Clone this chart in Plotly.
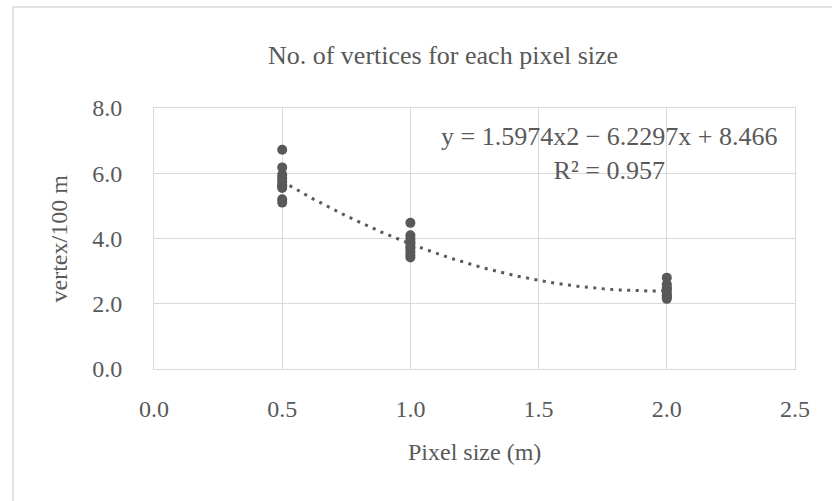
import numpy as np
import plotly.graph_objects as go

# Data
pixel_size = [0.5]*10 + [1.0]*10 + [2.0]*9
vertex_per_100m = [6.72, 6.18, 5.95, 5.85, 5.75, 5.65, 5.6, 5.55, 5.2, 5.1,
                   4.48, 4.1, 4.0, 3.9, 3.85, 3.75, 3.7, 3.6, 3.5, 3.42,
                   2.8, 2.6, 2.5, 2.45, 2.4, 2.3, 2.25, 2.2, 2.15]
trend_coef = [1.5974, -6.2297, 8.466]  # quadratic trendline from the chart label
equation_text = "y = 1.5974x2 − 6.2297x + 8.466<br>R² = 0.957"
x_ticks = [0.0, 0.5, 1.0, 1.5, 2.0, 2.5]
y_ticks = [0.0, 2.0, 4.0, 6.0, 8.0]

tx = np.linspace(min(pixel_size), max(pixel_size), 200)
ty = np.polyval(trend_coef, tx)

FONT = "Liberation Serif"
TXT = "#595959"
GRID = "#D9D9D9"

fig = go.Figure()
fig.add_trace(go.Scatter(x=tx, y=ty, mode="lines",
                         line=dict(color=TXT, width=3, dash="3px,5.5px"),
                         hoverinfo="skip", showlegend=False))
fig.add_trace(go.Scatter(x=pixel_size, y=vertex_per_100m, mode="markers",
                         marker=dict(color=TXT, size=10), showlegend=False))

fig.add_annotation(x=1.775, y=6.62, xref="x", yref="y", text=equation_text,
                   showarrow=False, align="center", xanchor="center", yanchor="middle",
                   font=dict(family=FONT, size=26, color=TXT))

# axis titles as annotations
fig.add_annotation(x=0.5, y=0, xref="paper", yref="paper", text="Pixel size (m)",
                   showarrow=False, xanchor="center", yanchor="middle", yshift=-83,
                   font=dict(family=FONT, size=24, color=TXT))
fig.add_annotation(x=0, y=0.5, xref="paper", yref="paper", text="vertex/100 m",
                   showarrow=False, xanchor="center", yanchor="middle", xshift=-96, textangle=-90,
                   font=dict(family=FONT, size=24, color=TXT))

fig.add_shape(type="rect", xref="paper", yref="paper", xsizemode="pixel", ysizemode="pixel",
              xanchor=0, yanchor=1, x0=-141, x1=720, y0=101, y1=-420,
              line=dict(color=GRID, width=1.5), fillcolor="rgba(0,0,0,0)", layer="below")

fig.update_layout(
    width=832, height=501,
    margin=dict(l=154, r=37, t=108, b=132),
    paper_bgcolor="white", plot_bgcolor="white",
    title=dict(text="No. of vertices for each pixel size", x=443/832, xref="container", xanchor="center",
               y=1 - 55/501, yref="container", yanchor="middle",
               font=dict(family=FONT, size=26, color=TXT)),
    font=dict(family=FONT, color=TXT),
    xaxis=dict(range=[0, 2.5], tickvals=x_ticks, ticktext=[f"{v:.1f}" for v in x_ticks],
               showgrid=True, gridcolor=GRID, gridwidth=1, zeroline=False,
               showline=True, linecolor=GRID, linewidth=1, mirror=True, ticks="",
               tickfont=dict(family=FONT, size=24, color=TXT), ticklabelstandoff=18),
    yaxis=dict(range=[0, 8], tickvals=y_ticks, ticktext=[f"{v:.1f}" for v in y_ticks],
               showgrid=True, gridcolor=GRID, gridwidth=1, zeroline=False,
               showline=True, linecolor=GRID, linewidth=1, mirror=True, ticks="",
               tickfont=dict(family=FONT, size=24, color=TXT), ticklabelstandoff=26),
)

fig.write_html("out.html")
